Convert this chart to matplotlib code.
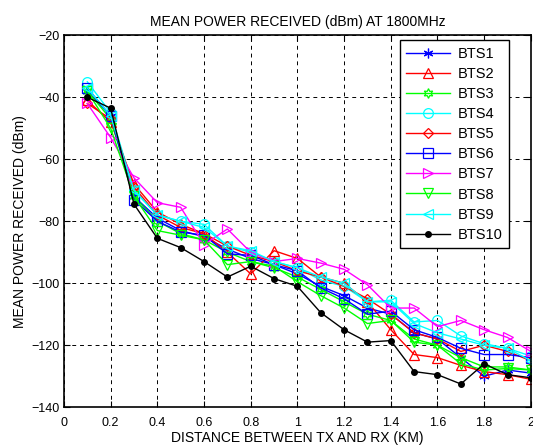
import matplotlib
matplotlib.use('Agg')
import matplotlib.pyplot as plt
import numpy as np

plt.rcParams['font.family'] = ['Liberation Sans', 'DejaVu Sans']

# distance (km)
distance = [0.1, 0.2, 0.3, 0.4, 0.5, 0.6, 0.7, 0.8, 0.9, 1.0,
            1.1, 1.2, 1.3, 1.4, 1.5, 1.6, 1.7, 1.8, 1.9, 2.0]

# mean received power (dBm) per BTS
bts1 = [-38, -46, -72, -79, -83, -85, -89, -92, -94, -97,
        -101, -104, -108, -110, -116, -118, -124, -130, -128, -129]
bts2 = [-41, -48, -68, -77, -81, -84, -90, -97, -89.5, -92,
        -98, -100, -106, -115, -123, -124, -126.5, -128.5, -129.5, -131]
bts3 = [-38, -47, -72, -80, -84, -86, -90, -93, -95, -98,
        -102, -106, -110, -112, -118, -120, -124, -127, -127, -128]
bts4 = [-35, -45, -70, -78, -80, -81, -88, -90, -93, -95,
        -99, -101, -106, -105.5, -112.5, -112, -117, -119.5, -121, -123.5]
bts5 = [-42, -47, -69, -78, -82, -84, -88, -91, -93, -96,
        -98, -101, -105, -110, -116, -118, -122, -120, -122, -125]
bts6 = [-37, -46, -73, -80, -83.5, -84.5, -90.5, -91, -94, -96,
        -101.5, -105, -110, -109, -115, -117.5, -121, -123, -123, -124]
bts7 = [-42, -53, -66, -74, -75.5, -87.5, -82.5, -90, -93, -92,
        -93.5, -95.5, -100.5, -108, -108, -114, -112, -115, -117.5, -122]
bts8 = [-38, -50, -72, -83, -84.5, -86, -94, -93, -94.5, -99.5,
        -104, -108, -113, -112, -119, -120, -126, -128, -127.5, -128]
bts9 = [-37, -46, -70, -78, -80, -82, -88, -89.5, -93, -95,
        -98, -100, -106, -106, -113, -116, -118, -120, -121, -125]
bts10 = [-40, -43.5, -74.5, -85.5, -88.5, -93, -98, -94.5, -98.5, -101,
         -109.5, -115, -119, -118.5, -128.5, -129.5, -132.5, -126, -129.5, -130.5]

series = [bts1, bts2, bts3, bts4, bts5, bts6, bts7, bts8, bts9, bts10]
names = ['BTS1', 'BTS2', 'BTS3', 'BTS4', 'BTS5', 'BTS6', 'BTS7', 'BTS8', 'BTS9', 'BTS10']
colors = ['#0000ff', '#ff0000', '#00ff00', '#00ffff', '#ff0000',
          '#0000ff', '#ff00ff', '#00ff00', '#00ffff', '#000000']
# matlab-like markers: asterisk, triangle, hexagram, circle, diamond, square, ...
markers = [(6, 2, 0), '^', (6, 1, 0), 'o', 'D', 's', '>', 'v', '<', 'o']
sizes = [7, 7, 7, 7, 5.5, 7, 7, 7, 7, 4]

fig = plt.figure(figsize=(5.33, 4.47), dpi=100)
ax = fig.add_axes([0.120, 0.089, 0.876, 0.832])

for y, name, c, m, s in zip(series, names, colors, markers, sizes):
    if name == 'BTS10':
        ax.plot(distance, y, color=c, marker=m, markersize=s, linewidth=1, label=name)
    else:
        ax.plot(distance, y, color=c, marker=m, markersize=s, markerfacecolor='none',
                markeredgecolor=c, markeredgewidth=0.9, linewidth=1, label=name)

ax.set_xlim(0, 2)
ax.set_ylim(-140, -20)
ax.set_xticks(np.arange(0, 2.01, 0.2))
ax.set_xticklabels(['0', '0.2', '0.4', '0.6', '0.8', '1', '1.2', '1.4', '1.6', '1.8', '2'])
ax.set_yticks(np.arange(-140, -19, 20))
ax.tick_params(direction='in', top=True, right=True, labelsize=9, length=4, pad=3)
ax.tick_params(axis='x', pad=7)
ax.grid(True, color='black', linestyle=(0, (4, 4)), linewidth=0.7)
for sp in ax.spines.values():
    sp.set_linewidth(1.2)

ax.set_title('MEAN POWER RECEIVED (dBm) AT 1800MHz', fontsize=10, pad=7)
ax.set_xlabel('DISTANCE BETWEEN TX AND RX (KM)', fontsize=10)
ax.xaxis.set_label_coords(0.5, -0.063)
ax.set_ylabel('MEAN POWER RECEIVED (dBm)', fontsize=10)
ax.yaxis.set_label_coords(-0.079, 0.5)

leg = ax.legend(loc='upper right', bbox_to_anchor=(0.953, 0.987), borderaxespad=0,
                fontsize=10.5, fancybox=False, edgecolor='black', framealpha=1,
                handlelength=3.0, borderpad=0.45, labelspacing=0.42, handletextpad=0.5)
leg.get_frame().set_linewidth(1)

fig.savefig('out.png', dpi=100)
